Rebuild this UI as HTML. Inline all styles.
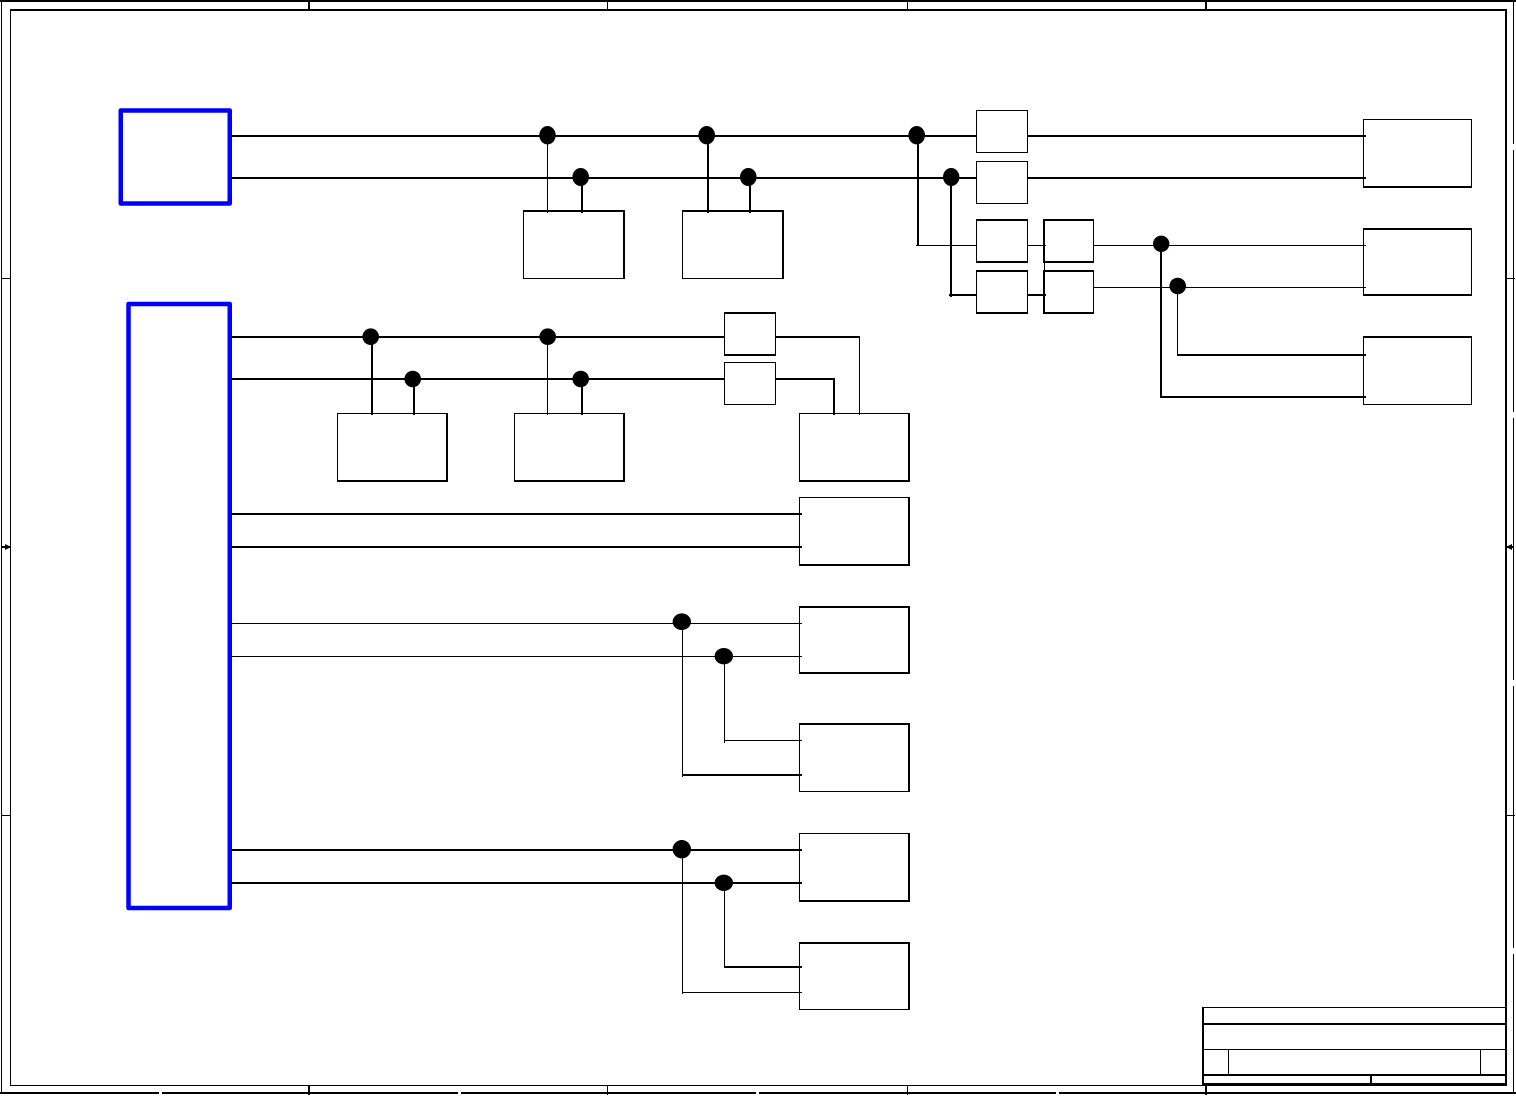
<!DOCTYPE html>
<html>
<head>
<meta charset="utf-8">
<style>
html,body{margin:0;padding:0;background:#fff;width:1516px;height:1096px;overflow:hidden}
svg{display:block}
</style>
</head>
<body>
<svg width="1516" height="1096" viewBox="0 0 1516 1096" xmlns="http://www.w3.org/2000/svg">
<rect width="1516" height="1096" fill="#fff"/>
<!-- frame -->
<g fill="#000" shape-rendering="crispEdges">
<rect x="0" y="0" width="1516" height="2"/>
<rect x="1" y="0" width="1" height="1094"/>
<rect x="0" y="1092" width="1516" height="2"/>
<rect x="1513" y="0" width="1" height="1094"/>
<rect x="10" y="9" width="1497" height="2"/>
<rect x="10" y="9" width="1" height="1077"/>
<rect x="10" y="1085" width="1497" height="1"/>
<rect x="1505" y="9" width="2" height="1077"/>
<rect x="308" y="0" width="2" height="10"/><rect x="607" y="0" width="1" height="10"/><rect x="907" y="0" width="1" height="10"/><rect x="1205" y="0" width="2" height="10"/>
<rect x="308" y="1086" width="2" height="9"/><rect x="607" y="1086" width="1" height="9"/><rect x="907" y="1086" width="1" height="9"/><rect x="1205" y="1086" width="2" height="9"/>
<rect x="1" y="278" width="9" height="1"/><rect x="1" y="815" width="9" height="1"/>
<rect x="1507" y="278" width="8" height="1"/><rect x="1507" y="815" width="8" height="1"/>
<rect x="1" y="546" width="9" height="2"/><rect x="1507" y="546" width="7" height="2"/>
</g>
<g fill="#fff" shape-rendering="crispEdges">
<rect x="159" y="1092" width="3" height="2"/><rect x="458" y="1092" width="3" height="2"/><rect x="756" y="1092" width="3" height="2"/><rect x="1056" y="1092" width="3" height="2"/>
<rect x="1513" y="144" width="1" height="6"/><rect x="1513" y="412" width="1" height="6"/><rect x="1513" y="680" width="1" height="6"/><rect x="1513" y="948" width="1" height="6"/>
</g>
<path d="M5 544 L11 547 L5 550Z M1512 544 L1506 547 L1512 550Z" fill="#000"/>
<!-- title block -->
<g fill="#000" shape-rendering="crispEdges">
<rect x="1202" y="1007" width="304" height="1"/>
<rect x="1202" y="1023" width="304" height="2"/>
<rect x="1202" y="1049" width="304" height="1"/>
<rect x="1202" y="1074" width="304" height="2"/>
<rect x="1202" y="1083" width="304" height="3"/>
<rect x="1202" y="1007" width="2" height="78"/>
<rect x="1228" y="1050" width="1" height="25"/>
<rect x="1480" y="1050" width="1" height="25"/>
<rect x="1370" y="1075" width="2" height="8"/>
</g>
<!-- blue blocks -->
<g fill="none" stroke="#0000ff" stroke-width="4.5" stroke-linejoin="round">
<rect x="120.75" y="110.500" width="109" height="93"/>
<rect x="128.500" y="304" width="101.250" height="604"/>
</g>
<!-- boxes: 1px outline -->
<g fill="none" stroke="#000" stroke-width="1" shape-rendering="crispEdges">
<rect x="523.500" y="211.500" width="101" height="67"/>
<rect x="682.500" y="211.500" width="101" height="67"/>
<rect x="337.500" y="413.500" width="110" height="68"/>
<rect x="514.500" y="413.500" width="110" height="68"/>
<rect x="799.500" y="413.500" width="110" height="68"/>
<rect x="799.500" y="497.500" width="110" height="68"/>
<rect x="799.500" y="607.500" width="110" height="66"/>
<rect x="799.500" y="724.500" width="110" height="67"/>
<rect x="799.500" y="833.500" width="110" height="68"/>
<rect x="799.500" y="943.500" width="110" height="66"/>
<rect x="724.500" y="313.500" width="51" height="42"/>
<rect x="724.500" y="362.500" width="51" height="42"/>
<rect x="976.500" y="110.500" width="51" height="42"/>
<rect x="976.500" y="161.500" width="51" height="42"/>
<rect x="976.500" y="220.500" width="51" height="42"/>
<rect x="976.500" y="271.500" width="51" height="42"/>
<rect x="1043.500" y="220.500" width="50" height="42"/>
<rect x="1043.500" y="271.500" width="50" height="42"/>
<rect x="1363.500" y="119.500" width="108" height="68"/>
<rect x="1363.500" y="229.500" width="108" height="66"/>
<rect x="1363.500" y="337.500" width="108" height="67"/>
<!-- thicker edges -->
<path d="M523 210.500H625M623.500 211V279M682 210.500H784M782.500 211V279"/>
<path d="M446.500 413V482M337 480.500H448M623.500 413V482M514 480.500H625"/>
<path d="M908.500 413V482M799 480.500H910M908.500 497V566M799 564.500H910"/>
<path d="M799 606.500H910M799 672.500H910M908.500 607V674"/>
<path d="M799 723.500H910M908.500 724V792"/>
<path d="M799 900.500H910M908.500 833V902"/>
<path d="M799 942.500H910M908.500 943V1010"/>
<path d="M724 312.500H776M724 354.500H776"/>
<path d="M976 219.500H1028M976 261.500H1028M976 270.500H1028M976 312.500H1028"/>
<path d="M1043 219.500H1094M1043 261.500H1094M1043 270.500H1094M1043 312.500H1094M1044.500 220V314"/>
<path d="M1363 186.500H1472M1363 228.500H1472M1363 294.500H1472M1363 336.500H1472"/>
</g>
<!-- thick connectors -->
<g fill="none" stroke="#000" stroke-width="2" shape-rendering="crispEdges">
<path d="M232 136H977M232 178H977M1028 136H1366M1028 178H1366"/>
<path d="M582 178V213M708 136V213M750 178V213"/>
<path d="M918 136V246M951 178V297M949 295H977M1028 295H1046"/>
<path d="M232 337H725M232 379H725M372 337V415M414 379V415M582 379V415"/>
<path d="M776 337H860M776 379H835M834 378V415"/>
<path d="M232 514H802M232 547H802M232 850H802M232 883H802"/>
<path d="M682 775H802M724 967H802"/>
<path d="M1161 244V398M1160 397H1366M1177 355H1366"/>
</g>
<!-- thin connectors -->
<g fill="none" stroke="#000" stroke-width="1" shape-rendering="crispEdges">
<path d="M547.500 135V213M916 245.500H977M1028 245.500H1046M1094 245.500H1366M1094 287.500H1366"/>
<path d="M1177.500 286V356"/>
<path d="M547.500 337V415"/>
<path d="M859.500 337V415"/>
<path d="M232 623.500H802M232 656.500H802"/>
<path d="M682.500 622V777M724.500 656V743M724 740.500H802"/>
<path d="M682.500 850V994M682 992.500H802M724.500 883V968"/>
</g>
<!-- junction dots -->
<g fill="#000">
<ellipse cx="547.500" cy="135.200" rx="8.200" ry="9.200"/>
<ellipse cx="580.700" cy="177" rx="8.300" ry="9"/>
<ellipse cx="706.700" cy="135.200" rx="8.300" ry="9.200"/>
<ellipse cx="748.300" cy="177" rx="8.300" ry="9"/>
<ellipse cx="916.700" cy="135.200" rx="8.300" ry="9.200"/>
<ellipse cx="951.200" cy="177" rx="8.200" ry="9"/>
<ellipse cx="1161.200" cy="243.800" rx="8.200" ry="8.200"/>
<ellipse cx="1177.700" cy="286" rx="8.300" ry="8.300"/>
<ellipse cx="370.700" cy="336.700" rx="8.300" ry="8.300"/>
<ellipse cx="412.700" cy="379" rx="8.300" ry="8.300"/>
<ellipse cx="547.700" cy="336.700" rx="8.300" ry="8.300"/>
<ellipse cx="580.700" cy="379" rx="8.300" ry="8.300"/>
<ellipse cx="681.800" cy="621.700" rx="9.200" ry="8.300"/>
<ellipse cx="723.800" cy="656.200" rx="9.200" ry="8.200"/>
<ellipse cx="681.800" cy="849.200" rx="9.200" ry="9.200"/>
<ellipse cx="723.800" cy="882.800" rx="9.200" ry="8.200"/>
</g>
</svg>
</body>
</html>
